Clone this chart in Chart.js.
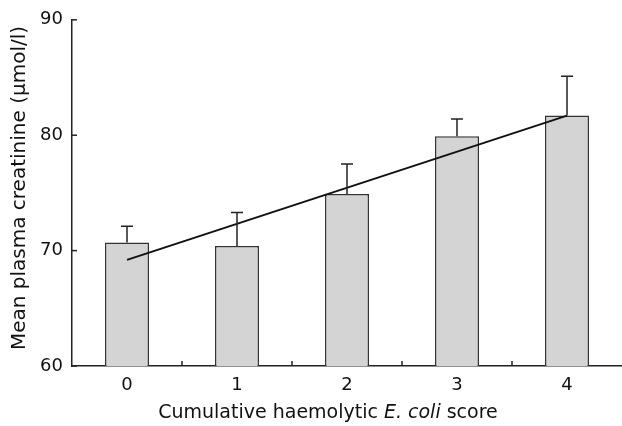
<!DOCTYPE html>
<html>
<head>
<meta charset="utf-8">
<script src="https://cdn.jsdelivr.net/npm/chart.js@4/dist/chart.umd.min.js"></script>
<style>
  html, body { margin: 0; padding: 0; background: #fff; }
  #wrap { width: 622px; height: 426px; position: relative; }
</style>
</head>
<body>
<div id="wrap"><canvas id="myChart"></canvas></div>
<script>
const scores = ['0', '1', '2', '3', '4'];
const meanCreatinine = [70.7, 70.4, 74.9, 79.9, 81.7];
const errUpper = [72.1, 73.3, 77.5, 81.4, 85.1];
const trendLine = [69.2, null, null, null, 81.7];
const yTicks = [60, 70, 80, 90];

const FONT = '"DejaVu Sans", "Liberation Sans", Arial, sans-serif';

// whiskers (upper only) + inward ticks + axis titles
const extras = {
  id: 'extras',
  afterDatasetsDraw(chart) {
    const c = chart.ctx;
    const y = chart.scales.y;
    const meta = chart.getDatasetMeta(1);
    c.save();
    c.strokeStyle = '#222';
    c.lineWidth = 1.5;
    meta.data.forEach((bar, i) => {
      const px = bar.x;
      const top = y.getPixelForValue(errUpper[i]);
      c.beginPath();
      c.moveTo(px, bar.y);
      c.lineTo(px, top);
      c.moveTo(px - 6, top);
      c.lineTo(px + 6, top);
      c.stroke();
    });
    c.restore();
  },
  afterDraw(chart) {
    const c = chart.ctx;
    const x = chart.scales.x, y = chart.scales.y;
    const area = chart.chartArea;
    c.save();
    c.strokeStyle = '#222';
    c.lineWidth = 1.5;
    yTicks.forEach(v => {
      const py = y.getPixelForValue(v);
      c.beginPath();
      c.moveTo(area.left, py);
      c.lineTo(area.left + 5, py);
      c.stroke();
    });
    for (let i = 0; i < scores.length - 1; i++) {
      const px = (x.getPixelForValue(i) + x.getPixelForValue(i + 1)) / 2;
      c.beginPath();
      c.moveTo(px, area.bottom);
      c.lineTo(px, area.bottom - 5);
      c.stroke();
    }

    c.fillStyle = '#111';
    c.textBaseline = 'alphabetic';
    // x title with italic E. coli
    const parts = [
      ['Cumulative haemolytic ', 'normal'],
      ['E. coli', 'italic'],
      [' score', 'normal']
    ];
    let total = 0;
    parts.forEach(p => { c.font = p[1] + ' 19px ' + FONT; total += c.measureText(p[0]).width; });
    let tx = 328 - total / 2;
    parts.forEach(p => {
      c.font = p[1] + ' 19px ' + FONT;
      c.textAlign = 'left';
      c.fillText(p[0], tx, 418);
      tx += c.measureText(p[0]).width;
    });

    // y title
    c.save();
    c.translate(25, 188);
    c.rotate(-Math.PI / 2);
    c.font = '20px ' + FONT;
    c.textAlign = 'center';
    c.fillText('Mean plasma creatinine (\u00b5mol/l)', 0, 0);
    c.restore();
    c.restore();
  }
};

new Chart(document.getElementById('myChart'), {
  data: {
    labels: scores,
    datasets: [
      {
        type: 'line',
        data: trendLine,
        spanGaps: true,
        borderColor: '#111',
        borderWidth: 2,
        pointRadius: 0,
        order: 0
      },
      {
        type: 'bar',
        data: meanCreatinine,
        backgroundColor: '#d4d4d4',
        borderColor: '#333',
        borderWidth: 1.5,
        barPercentage: 0.4,
        categoryPercentage: 1,
        order: 1
      }
    ]
  },
  options: {
    responsive: true,
    maintainAspectRatio: false,
    animation: false,
    layout: { padding: { top: 15, right: 0, left: 0, bottom: 0 } },
    plugins: {
      legend: { display: false },
      tooltip: { enabled: false }
    },
    scales: {
      x: {
        type: 'category',
        offset: true,
        grid: { display: false, drawTicks: false },
        border: { color: '#222', width: 1.5 },
        ticks: { color: '#111', padding: 9, font: { family: FONT, size: 18 } },
        afterFit: s => { s.height = 60; }
      },
      y: {
        min: 60,
        max: 90,
        grid: { display: false, drawTicks: false },
        border: { color: '#222', width: 1.5 },
        ticks: { stepSize: 10, color: '#111', padding: 9, font: { family: FONT, size: 18 } },
        afterFit: s => { s.width = 72; }
      }
    }
  },
  plugins: [extras]
});
</script>
</body>
</html>
